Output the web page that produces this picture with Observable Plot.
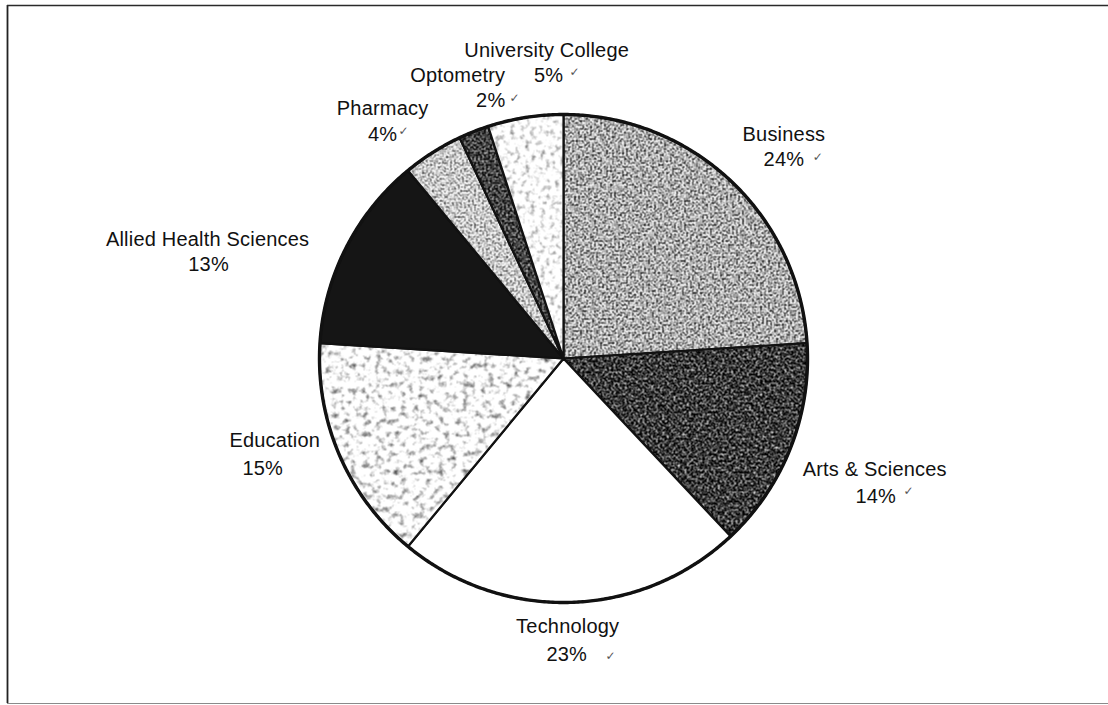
<!DOCTYPE html>
<html>
<head>
<meta charset="utf-8">
<script src="https://cdn.jsdelivr.net/npm/d3@7"></script>
<script src="https://cdn.jsdelivr.net/npm/@observablehq/plot@0.6"></script>
<style>
  html, body { margin: 0; padding: 0; background: #fff; overflow: hidden; }
  #chart svg { display: block; }
</style>
</head>
<body>
<svg width="0" height="0" style="position:absolute">
  <defs>
    <filter id="fBus" x="0" y="0" width="100%" height="100%" color-interpolation-filters="sRGB">
      <feTurbulence type="fractalNoise" baseFrequency="0.5" numOctaves="3" seed="4"/>
      <feColorMatrix type="matrix" values="2.6 0 0 0 -0.62  2.6 0 0 0 -0.62  2.6 0 0 0 -0.62  0 0 0 0 1"/>
    </filter>
    <filter id="fArts" x="0" y="0" width="100%" height="100%" color-interpolation-filters="sRGB">
      <feTurbulence type="fractalNoise" baseFrequency="0.45" numOctaves="3" seed="7"/>
      <feColorMatrix type="matrix" values="2.2 0 0 0 -0.88  2.2 0 0 0 -0.88  2.2 0 0 0 -0.88  0 0 0 0 1"/>
    </filter>
    <filter id="fEdu" x="0" y="0" width="100%" height="100%" color-interpolation-filters="sRGB">
      <feTurbulence type="fractalNoise" baseFrequency="0.16" numOctaves="4" seed="11"/>
      <feColorMatrix type="matrix" values="1.7 0 0 0 0.17  1.7 0 0 0 0.17  1.7 0 0 0 0.17  0 0 0 0 1"/>
    </filter>
    <filter id="fPha" x="0" y="0" width="100%" height="100%" color-interpolation-filters="sRGB">
      <feTurbulence type="fractalNoise" baseFrequency="0.5" numOctaves="3" seed="5"/>
      <feColorMatrix type="matrix" values="2.2 0 0 0 -0.30  2.2 0 0 0 -0.30  2.2 0 0 0 -0.30  0 0 0 0 1"/>
    </filter>
    <filter id="fOpt" x="0" y="0" width="100%" height="100%" color-interpolation-filters="sRGB">
      <feTurbulence type="fractalNoise" baseFrequency="0.5" numOctaves="3" seed="9"/>
      <feColorMatrix type="matrix" values="2 0 0 0 -0.74  2 0 0 0 -0.74  2 0 0 0 -0.74  0 0 0 0 1"/>
    </filter>
    <filter id="fUc" x="0" y="0" width="100%" height="100%" color-interpolation-filters="sRGB">
      <feTurbulence type="fractalNoise" baseFrequency="0.2" numOctaves="4" seed="3"/>
      <feColorMatrix type="matrix" values="1.3 0 0 0 0.38  1.3 0 0 0 0.38  1.3 0 0 0 0.38  0 0 0 0 1"/>
    </filter>
    <pattern id="pBus" patternUnits="userSpaceOnUse" width="1108" height="705"><rect width="1108" height="705" filter="url(#fBus)"/></pattern>
    <pattern id="pArts" patternUnits="userSpaceOnUse" width="1108" height="705"><rect width="1108" height="705" filter="url(#fArts)"/></pattern>
    <pattern id="pEdu" patternUnits="userSpaceOnUse" width="1108" height="705"><rect width="1108" height="705" filter="url(#fEdu)"/></pattern>
    <pattern id="pPha" patternUnits="userSpaceOnUse" width="1108" height="705"><rect width="1108" height="705" filter="url(#fPha)"/></pattern>
    <pattern id="pOpt" patternUnits="userSpaceOnUse" width="1108" height="705"><rect width="1108" height="705" filter="url(#fOpt)"/></pattern>
    <pattern id="pUc" patternUnits="userSpaceOnUse" width="1108" height="705"><rect width="1108" height="705" filter="url(#fUc)"/></pattern>
  </defs>
</svg>
<div id="chart"></div>
<script>
// ---- data ----
const colleges = ["Business", "Arts & Sciences", "Technology", "Education",
  "Allied Health Sciences", "Pharmacy", "Optometry", "University College"];
const shares = [24, 14, 23, 15, 13, 4, 2, 5];
const pctLabels = ["24%", "14%", "23%", "15%", "13%", "4%", "2%", "5%"];
const checked = [true, true, true, false, false, true, true, true];

// ---- styles ----
const sliceFills = ["url(#pBus)", "url(#pArts)", "#ffffff", "url(#pEdu)",
  "#151515", "url(#pPha)", "url(#pOpt)", "url(#pUc)"];

// ---- layout (pixel nudges from polar label anchor) ----
const nameNudge = [[20, -10], [39, 3], [-5, -25], [-20, -34], [-95, 14], [-24, -3], [2, -11], [29, -19]];
const pctNudge = [[0, 25], [1, 27], [-1, 28], [-12, 28], [1, 25], [0, 26], [33, 25], [2, 25]];
const checkNudge = [[34, -3], [33, -5], [44, 2], [0, 0], [0, 0], [21, -3], [24, -2], [26, -3]];

const W = 1108, H = 705;
const cx = 563, cy = 358, R = 244;
const mL = 7, mT = 5, mR = 0, mB = 2;
const labelR = 1.2;

const total = d3.sum(shares);
let acc = 0;
const slices = colleges.map((name, i) => {
  const a0 = acc / total * 2 * Math.PI;
  acc += shares[i];
  const a1 = acc / total * 2 * Math.PI;
  return {name, i, a0, a1, mid: (a0 + a1) / 2, fill: sliceFills[i], pct: pctLabels[i], checked: checked[i]};
});

const pts = slices.flatMap(s => {
  const n = Math.max(2, Math.ceil((s.a1 - s.a0) / (Math.PI / 360)));
  const arr = [{name: s.name, x: 0, y: 0, fill: s.fill}];
  for (let k = 0; k <= n; k++) {
    const a = s.a0 + (s.a1 - s.a0) * k / n;
    arr.push({name: s.name, x: Math.sin(a), y: Math.cos(a), fill: s.fill});
  }
  return arr;
});
const rim = d3.range(0, 721).map(k => ({x: Math.sin(k / 720 * 2 * Math.PI), y: Math.cos(k / 720 * 2 * Math.PI)}));

const nameX = s => labelR * Math.sin(s.mid) + nameNudge[s.i][0] / R;
const nameY = s => labelR * Math.cos(s.mid) - nameNudge[s.i][1] / R;
const pctX = s => nameX(s) + pctNudge[s.i][0] / R;
const pctY = s => nameY(s) - pctNudge[s.i][1] / R;

const font = "'Liberation Sans', Arial, Helvetica, sans-serif";
const xDom = [(mL - cx) / R, (W - mR - cx) / R];
const yDom = [-(H - mB - cy) / R, (cy - mT) / R];

const plot = Plot.plot({
  width: W, height: H,
  marginLeft: mL, marginTop: mT, marginRight: mR, marginBottom: mB,
  x: {domain: xDom, axis: null},
  y: {domain: yDom, axis: null},
  color: {type: "identity"},
  style: {fontFamily: font, background: "#fff", overflow: "hidden", letterSpacing: "0.2px"},
  marks: [
    Plot.ruleX([xDom[0]], {stroke: "#222", strokeWidth: 1.8}),
    Plot.ruleY([yDom[1]], {stroke: "#2a2a2a", strokeWidth: 1.6}),
    Plot.ruleY([yDom[0]], {stroke: "#8a8a8a", strokeWidth: 1.2}),
    Plot.line(pts, {x: "x", y: "y", z: "name", fill: "fill", stroke: "#111", strokeWidth: 2.2,
      strokeLinejoin: "round", curve: "linear-closed"}),
    Plot.line(rim, {x: "x", y: "y", stroke: "#111", strokeWidth: 3.4, fill: "none"}),
    Plot.text(slices, {x: nameX, y: nameY, text: "name", fontSize: 20, fill: "#111",
      textAnchor: "middle", lineAnchor: "middle"}),
    Plot.text(slices, {x: pctX, y: pctY, text: "pct", fontSize: 20, fill: "#111",
      textAnchor: "middle", lineAnchor: "middle"}),
    Plot.text(slices.filter(s => s.checked), {
      x: s => pctX(s) + checkNudge[s.i][0] / R,
      y: s => pctY(s) - checkNudge[s.i][1] / R,
      text: () => "✓", fontSize: 12, fill: "#555", fontFamily: "DejaVu Sans",
      textAnchor: "middle", lineAnchor: "middle"})
  ]
});
document.getElementById("chart").appendChild(plot);
</script>
</body>
</html>
